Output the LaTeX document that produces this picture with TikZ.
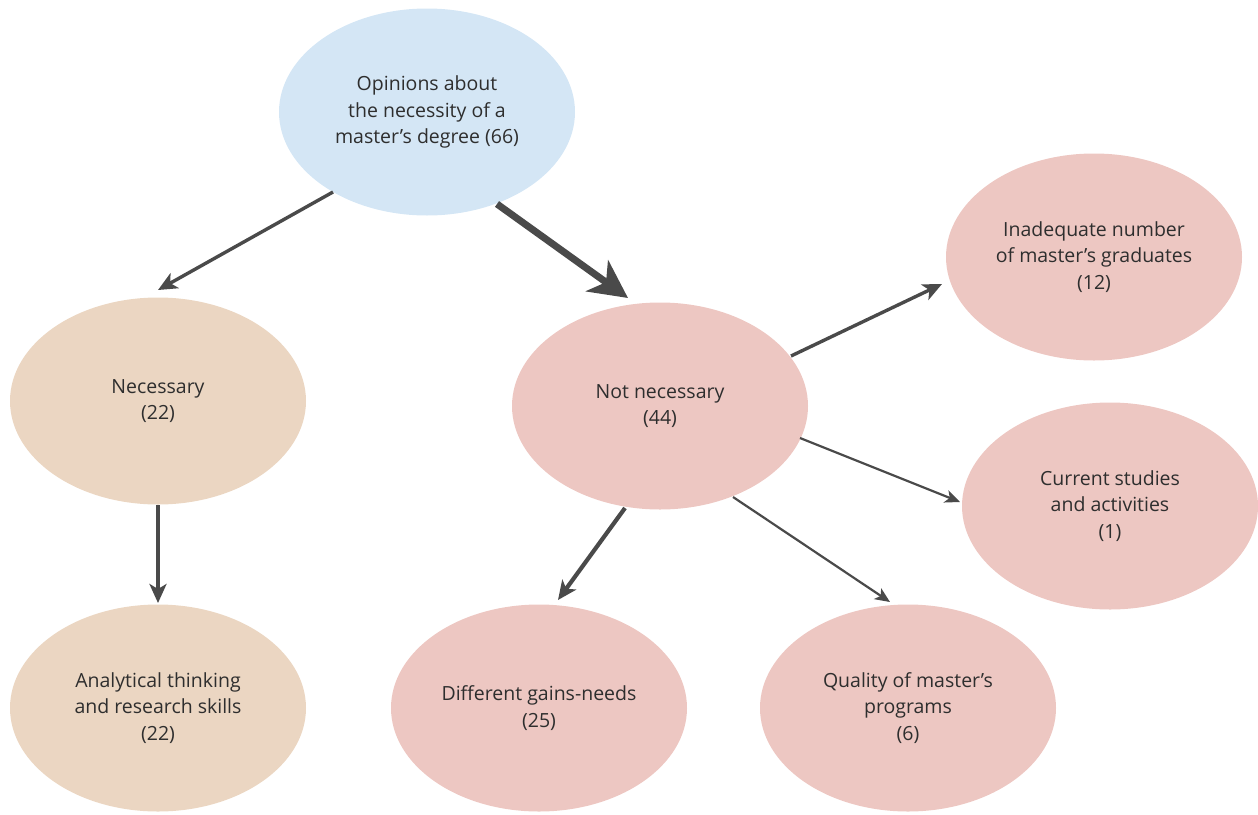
\documentclass[tikz,border=0pt]{standalone}
\usepackage{fontspec}
\setmainfont{Open Sans}
\usetikzlibrary{arrows.meta,shapes.geometric}
\definecolor{topblue}{HTML}{D4E6F5}
\definecolor{tan}{HTML}{EBD6C2}
\definecolor{rose}{HTML}{EDC7C2}
\definecolor{arrowgray}{HTML}{4A4A4A}
\definecolor{txt}{HTML}{2E2E2E}
\begin{document}
\begin{tikzpicture}[x=1pt,y=-1pt,
  bubble/.style={ellipse,minimum width=296pt,minimum height=207pt,inner sep=0pt,
    align=center,text=txt,font=\fontsize{19.5}{26.5}\selectfont},
  thin/.style={draw=arrowgray,line width=2.2pt,-{Stealth[length=15pt,width=13pt,inset=4pt]}},
  mid/.style={draw=arrowgray,line width=3.4pt,-{Stealth[length=19pt,width=17pt,inset=5pt]}},
  thick/.style={draw=arrowgray,line width=7pt,-{Stealth[length=38pt,width=38pt,inset=11pt]}}]
\useasboundingbox (0,0) rectangle (1258,814);

% ellipses
\node[bubble,fill=topblue] (top) at (427,112) {Opinions about\\the necessity of a\\master’s degree (66)};
\node[bubble,fill=tan] (nec) at (158,401) {Necessary\\(22)};
\node[bubble,fill=tan] (ana) at (158,708) {Analytical thinking\\and research skills\\(22)};
\node[bubble,fill=rose] (notnec) at (660,406) {Not necessary\\(44)};
\node[bubble,fill=rose] (inad) at (1094,257) {Inadequate number\\of master’s graduates\\(12)};
\node[bubble,fill=rose] (cur) at (1110,506) {Current studies\\and activities\\(1)};
\node[bubble,fill=rose] (diff) at (539,708) {Different gains-needs\\(25)};
\node[bubble,fill=rose] (qual) at (908,708) {Quality of master’s\\programs\\(6)};

% connector end points
\coordinate (topL) at ([shift={(-94,80)}]top.center);
\coordinate (necT) at ([shift={(0,-111)}]nec.center);
\coordinate (topR) at ([shift={(70,92)}]top.center);
\coordinate (notT) at ([shift={(-32,-108)}]notnec.center);
\coordinate (necB) at ([shift={(0,104)}]nec.center);
\coordinate (anaT) at ([shift={(0,-105)}]ana.center);
\coordinate (notA) at ([shift={(131,-50)}]notnec.center);
\coordinate (inadL) at ([shift={(-152,27)}]inad.center);
\coordinate (notB) at ([shift={(140,32)}]notnec.center);
\coordinate (curL) at ([shift={(-150,-4)}]cur.center);
\coordinate (notC) at ([shift={(-35,102)}]notnec.center);
\coordinate (diffT) at ([shift={(19,-108)}]diff.center);
\coordinate (notD) at ([shift={(73,91)}]notnec.center);
\coordinate (qualT) at ([shift={(-18,-106)}]qual.center);

% connectors
\draw[mid] (topL) -- (necT);
\draw[thick] (topR) -- (notT);
\draw[mid] (necB) -- (anaT);
\draw[mid] (notA) -- (inadL);
\draw[thin] (notB) -- (curL);
\draw[mid,line width=4.2pt] (notC) -- (diffT);
\draw[thin] (notD) -- (qualT);
\end{tikzpicture}
\end{document}
